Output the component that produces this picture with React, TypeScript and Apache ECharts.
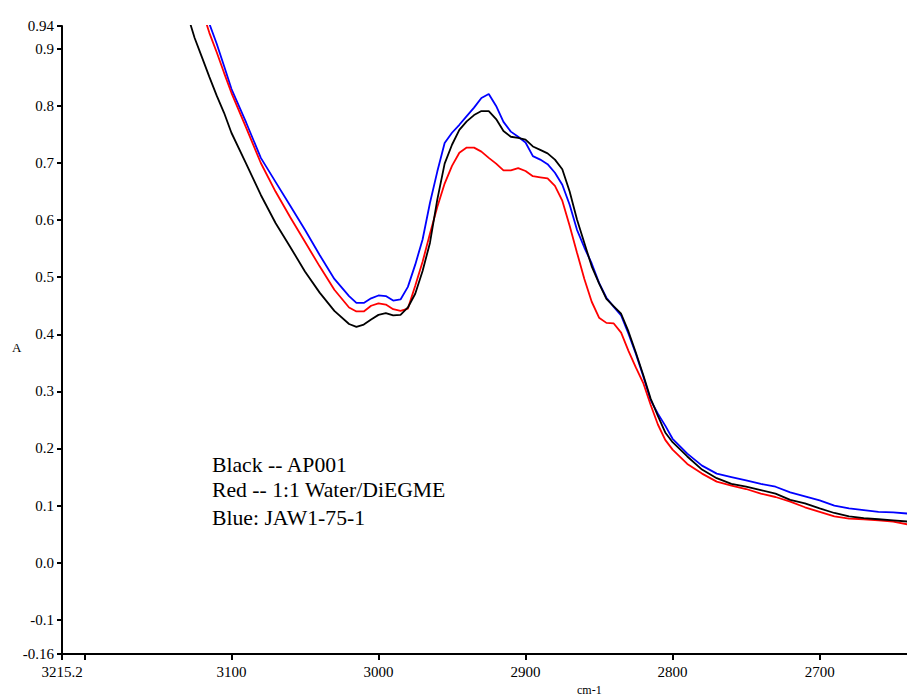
import React, { useEffect, useRef } from "react";
import * as echarts from "echarts";

const wavenumbers = [
  3135, 3130, 3125, 3120, 3115, 3110, 3105, 3100, 3090, 3080, 3070, 3060, 3050, 3040, 3030, 3020,
  3015, 3010, 3005, 3000, 2995, 2990, 2985, 2980, 2975, 2970, 2965, 2960, 2955, 2950, 2945, 2940,
  2935, 2930, 2925, 2920, 2915, 2910, 2905, 2900, 2895, 2890, 2885, 2880, 2875, 2870, 2865, 2860,
  2855, 2850, 2845, 2840, 2835, 2830, 2825, 2820, 2815, 2810, 2805, 2800, 2790, 2780, 2770, 2760,
  2750, 2740, 2730, 2720, 2710, 2700, 2690, 2680, 2670, 2660, 2650, 2640,
];

const blackAP001 = [
  1.003, 0.961, 0.919, 0.885, 0.851, 0.818, 0.788, 0.753, 0.699, 0.644, 0.595, 0.553, 0.51, 0.473, 0.441, 0.418,
  0.413, 0.417, 0.426, 0.434, 0.437, 0.433, 0.434, 0.447, 0.471, 0.511, 0.56, 0.636, 0.699, 0.732, 0.758, 0.773,
  0.784, 0.791, 0.791, 0.777, 0.756, 0.746, 0.744, 0.741, 0.729, 0.723, 0.717, 0.706, 0.689, 0.65, 0.601, 0.56,
  0.519, 0.489, 0.462, 0.449, 0.436, 0.405, 0.368, 0.329, 0.288, 0.257, 0.228, 0.211, 0.186, 0.163, 0.148, 0.138,
  0.133, 0.127, 0.121, 0.11, 0.104, 0.095, 0.087, 0.081, 0.078, 0.076, 0.074, 0.072,
];

const redWaterDiEGME = [
  1.096, 1.054, 1.012, 0.969, 0.928, 0.894, 0.858, 0.823, 0.762, 0.7, 0.65, 0.605, 0.562, 0.519, 0.478, 0.447,
  0.44, 0.44, 0.45, 0.454, 0.452, 0.444, 0.441, 0.445, 0.485, 0.527, 0.576, 0.623, 0.664, 0.695, 0.718, 0.727,
  0.727, 0.72, 0.709, 0.699, 0.687, 0.687, 0.691, 0.686, 0.677, 0.675, 0.673, 0.66, 0.634, 0.59, 0.543, 0.497,
  0.457, 0.429, 0.42, 0.419, 0.403, 0.371, 0.342, 0.315, 0.277, 0.242, 0.215, 0.198, 0.173, 0.156, 0.142, 0.135,
  0.129, 0.121, 0.115, 0.107, 0.097, 0.089, 0.081, 0.077, 0.076, 0.074, 0.072, 0.067,
];

const blueJAW = [
  1.095, 1.056, 1.017, 0.98, 0.944, 0.909, 0.87, 0.83, 0.771, 0.709, 0.667, 0.625, 0.583, 0.539, 0.497, 0.467,
  0.455, 0.455, 0.463, 0.468, 0.467, 0.459, 0.461, 0.483, 0.522, 0.566, 0.63, 0.685, 0.735, 0.753, 0.767, 0.782,
  0.797, 0.814, 0.821, 0.8, 0.772, 0.755, 0.746, 0.736, 0.712, 0.706, 0.698, 0.683, 0.662, 0.627, 0.583, 0.552,
  0.524, 0.49, 0.464, 0.448, 0.433, 0.401, 0.366, 0.327, 0.285, 0.261, 0.24, 0.217, 0.191, 0.17, 0.156, 0.15,
  0.144, 0.138, 0.133, 0.123, 0.116, 0.109, 0.1, 0.095, 0.092, 0.089, 0.088, 0.086,
];

const xLabelValues = [3215.2, 3100, 3000, 2900, 2800, 2700];
const xTickValues = [3215.2, 3200, 3100, 3000, 2900, 2800, 2700];
const yTickValues = [-0.16, -0.1, 0, 0.1, 0.2, 0.3, 0.4, 0.5, 0.6, 0.7, 0.8, 0.9, 0.94];

const legendLines = ["Black -- AP001", "Red -- 1:1 Water/DiEGME", "Blue: JAW1-75-1"];

const FONT = "Liberation Serif";

export default function App() {
  const ref = useRef<HTMLDivElement>(null);

  useEffect(() => {
    document.body.style.margin = "0";
    if (!ref.current) return;
    const chart = echarts.init(ref.current, undefined, { renderer: "svg" });
    const pair = (arr: number[]) => wavenumbers.map((w, i) => [w, arr[i]]);
    const fmtY = (v: number) =>
      Math.abs(v * 10 - Math.round(v * 10)) < 1e-6 ? v.toFixed(1) : v.toFixed(2);

    chart.setOption({
      animation: false,
      backgroundColor: "#ffffff",
      grid: { left: 62, right: 0, top: 26, bottom: 44, containLabel: false },
      xAxis: {
        type: "value",
        inverse: true,
        min: 2640.6,
        max: 3215.2,
        axisLine: { onZero: false, lineStyle: { color: "#000", width: 2 } },
        axisTick: {
          show: true,
          customValues: xTickValues,
          length: 6,
          lineStyle: { color: "#000", width: 2 },
        },
        axisLabel: {
          customValues: xLabelValues,
          color: "#000",
          fontFamily: FONT,
          fontSize: 15,
          margin: 10,
          formatter: (v: number) => String(v),
        },
        splitLine: { show: false },
      },
      yAxis: {
        type: "value",
        min: -0.16,
        max: 0.94,
        axisLine: { show: true, onZero: false, lineStyle: { color: "#000", width: 2 } },
        axisTick: {
          show: true,
          customValues: yTickValues,
          length: 5,
          lineStyle: { color: "#000", width: 2 },
        },
        axisLabel: {
          customValues: yTickValues,
          color: "#000",
          fontFamily: FONT,
          fontSize: 15,
          margin: 8,
          formatter: fmtY,
        },
        splitLine: { show: false },
      },
      series: [
        {
          name: "Blue: JAW1-75-1",
          type: "line",
          data: pair(blueJAW),
          showSymbol: false,
          lineStyle: { color: "#0000ff", width: 1.8 },
          itemStyle: { color: "#0000ff" },
        },
        {
          name: "Red -- 1:1 Water/DiEGME",
          type: "line",
          data: pair(redWaterDiEGME),
          showSymbol: false,
          lineStyle: { color: "#ff0000", width: 1.8 },
          itemStyle: { color: "#ff0000" },
        },
        {
          name: "Black -- AP001",
          type: "line",
          data: pair(blackAP001),
          showSymbol: false,
          lineStyle: { color: "#000000", width: 1.8 },
          itemStyle: { color: "#000000" },
        },
      ],
      graphic: [
        {
          type: "text",
          left: 12,
          top: 341,
          style: { text: "A", fill: "#000", fontFamily: FONT, fontSize: 13 },
        },
        {
          type: "text",
          left: 577,
          top: 684,
          style: { text: "cm-1", fill: "#000", fontFamily: FONT, fontSize: 12 },
        },
        ...legendLines.map((t, i) => ({
          type: "text",
          left: 212,
          top: [454, 479, 507][i],
          style: { text: t, fill: "#000", fontFamily: FONT, fontSize: 21.7 },
        })),
      ],
    });
    return () => chart.dispose();
  }, []);

  return (
    <div
      ref={ref}
      style={{ position: "absolute", left: 0, top: 0, width: 907, height: 698 }}
    />
  );
}
